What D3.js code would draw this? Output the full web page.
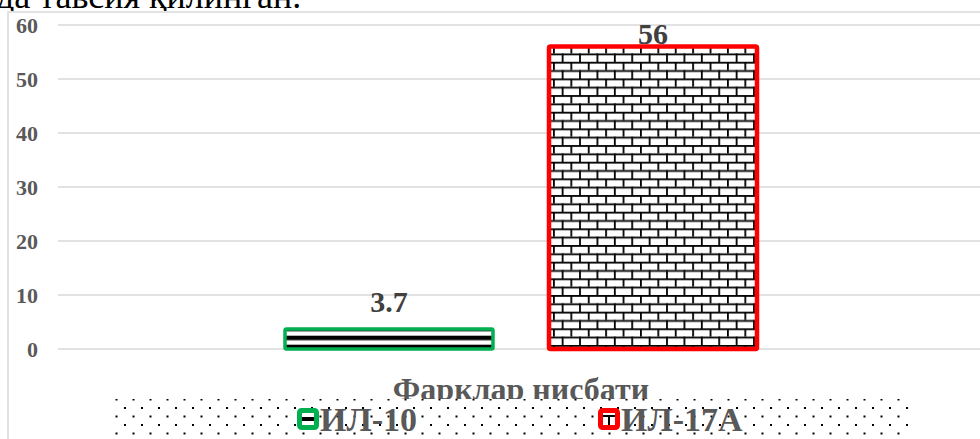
<!DOCTYPE html>
<html>
<head>
<meta charset="utf-8">
<script src="https://cdn.jsdelivr.net/npm/d3@7"></script>
<style>
  html, body { margin: 0; padding: 0; background: #fff; }
  svg { display: block; }
</style>
</head>
<body>
<svg id="chart" width="980" height="439"></svg>
<script>
// Chart data
const categories = ['Фарклар нисбати'];
const seriesNames = ['ИЛ-10', 'ИЛ-17А'];
const values = [3.7, 56];
const yTicks = [0, 10, 20, 30, 40, 50, 60];
const seriesColors = ['#00b050', '#ff0000'];
const seriesPatterns = ['stripes', 'bricks'];

const W = 980, H = 439;
const svg = d3.select('#chart');
const serif = '"Liberation Serif", "Times New Roman", serif';

// Fill patterns
const defs = svg.append('defs');

const y = d3.scaleLinear().domain([0, 60]).range([349, 25]);

const stripes = defs.append('pattern')
  .attr('id', 'stripes')
  .attr('patternUnits', 'userSpaceOnUse')
  .attr('width', 9).attr('height', 9)
  .attr('y', y(0) - 13.3);
stripes.append('rect').attr('width', 9).attr('height', 9).attr('fill', '#fff');
stripes.append('rect').attr('width', 9).attr('height', 4.5).attr('fill', '#000');

const bw = 17.4, bh = 8.33;
const bricks = defs.append('pattern')
  .attr('id', 'bricks')
  .attr('patternUnits', 'userSpaceOnUse')
  .attr('width', bw).attr('height', bh * 2)
  .attr('x', 553).attr('y', y(0) - 4);
bricks.append('rect').attr('width', bw).attr('height', bh * 2).attr('fill', '#fff');
bricks.append('rect').attr('x', 0).attr('y', 0).attr('width', bw).attr('height', 1.8).attr('fill', '#000');
bricks.append('rect').attr('x', 0).attr('y', bh).attr('width', bw).attr('height', 1.8).attr('fill', '#000');
bricks.append('rect').attr('x', 0).attr('y', 0).attr('width', 1.8).attr('height', bh).attr('fill', '#000');
bricks.append('rect').attr('x', bw / 2).attr('y', bh).attr('width', 1.8).attr('height', bh).attr('fill', '#000');

const dots = defs.append('pattern')
  .attr('id', 'dots')
  .attr('patternUnits', 'userSpaceOnUse')
  .attr('width', 17).attr('height', 17)
  .attr('x', 5).attr('y', 407);
dots.append('rect').attr('width', 17).attr('height', 17).attr('fill', '#fff');
dots.append('rect').attr('x', 0).attr('y', 0).attr('width', 2).attr('height', 2).attr('fill', '#000');
dots.append('rect').attr('x', 8.5).attr('y', 8.5).attr('width', 2).attr('height', 2).attr('fill', '#000');

// Strip above the chart frame where the preceding document line ends
defs.append('clipPath').attr('id', 'above-frame')
  .append('rect').attr('x', 0).attr('y', 0).attr('width', W).attr('height', 11);

svg.append('text')
  .attr('clip-path', 'url(#above-frame)')
  .attr('x', -4).attr('y', 8)
  .attr('font-family', serif)
  .attr('font-size', 36)
  .attr('fill', '#000')
  .text('да тавсия қилинган.');

// Chart frame
svg.append('rect')
  .attr('x', 8).attr('y', 12)
  .attr('width', W + 20).attr('height', H + 20)
  .attr('fill', '#fff')
  .attr('stroke', '#d9d9d9').attr('stroke-width', 1.5);

// Scales
const x = d3.scaleBand().domain(categories).range([58, 984]);
const groupW = 476;
const xs = d3.scaleBand().domain(seriesNames)
  .range([0, groupW]).paddingInner(0.197);

// Gridlines
svg.append('g').selectAll('line').data(yTicks).join('line')
  .attr('x1', 58).attr('x2', W)
  .attr('y1', d => y(d)).attr('y2', d => y(d))
  .attr('stroke', '#d9d9d9').attr('stroke-width', 1.5);

// Y axis labels
const yAxis = d3.axisLeft(y).tickValues(yTicks).tickSize(0).tickPadding(0);
const gy = svg.append('g').attr('transform', 'translate(38,0)').call(yAxis);
gy.select('.domain').remove();
gy.selectAll('text')
  .attr('font-family', serif).attr('font-size', 22).attr('font-weight', 'bold')
  .attr('fill', '#595959').attr('dy', '0.34em');

// Bars
const rows = seriesNames.map((s, i) => ({ series: s, value: values[i], color: seriesColors[i], pattern: seriesPatterns[i], cat: categories[0] }));
const groupX = d => x(d.cat) + x.bandwidth() / 2 - groupW / 2 + xs(d.series);

svg.append('g').selectAll('rect').data(rows).join('rect')
  .attr('x', d => groupX(d) + 2)
  .attr('y', d => y(d.value))
  .attr('width', xs.bandwidth() - 4)
  .attr('height', d => y(0) - y(d.value))
  .attr('fill', d => `url(#${d.pattern})`)
  .attr('stroke', d => d.color)
  .attr('stroke-width', (d, i) => i === 0 ? 3.5 : 4.5)
  .attr('rx', 1.5);

// Value labels
svg.append('g').selectAll('text').data(rows).join('text')
  .attr('x', d => groupX(d) + xs.bandwidth() / 2)
  .attr('y', d => Math.max(y(d.value) - 17, y(60) + 19))
  .attr('text-anchor', 'middle')
  .attr('font-family', serif).attr('font-size', 30).attr('font-weight', 'bold')
  .attr('fill', '#404040')
  .text(d => d.value);

// Category axis title
svg.append('g').selectAll('text').data(categories).join('text')
  .attr('x', d => x(d) + x.bandwidth() / 2)
  .attr('y', 400)
  .attr('text-anchor', 'middle')
  .attr('font-family', serif).attr('font-size', 32).attr('font-weight', 'bold')
  .attr('fill', '#595959')
  .text(d => d);

// Legend
const lg = svg.append('g');
lg.append('rect')
  .attr('x', 112).attr('y', 399).attr('width', 800).attr('height', 50)
  .attr('fill', 'url(#dots)');
const legendX = d3.scalePoint().domain(seriesNames).range([297, 598]);
const items = lg.selectAll('g.item').data(rows).join('g')
  .attr('class', 'item')
  .attr('transform', d => `translate(${legendX(d.series)},408)`);
items.append('rect')
  .attr('x', 2.5).attr('y', 2.5).attr('width', 17).attr('height', 17)
  .attr('rx', 2)
  .attr('fill', '#fff')
  .attr('stroke', d => d.color).attr('stroke-width', 5);
items.append('rect')
  .attr('x', 5).attr('y', d => d.pattern === 'stripes' ? 9 : 7)
  .attr('width', 12).attr('height', d => d.pattern === 'stripes' ? 4 : 2)
  .attr('fill', '#000');
items.filter(d => d.pattern === 'bricks').append('rect')
  .attr('x', 10).attr('y', 9).attr('width', 2).attr('height', 8).attr('fill', '#000');
items.append('text')
  .attr('x', 23).attr('y', 23)
  .attr('font-family', serif).attr('font-size', 34).attr('font-weight', 'bold')
  .attr('fill', '#595959')
  .text(d => d.series);
</script>
</body>
</html>
